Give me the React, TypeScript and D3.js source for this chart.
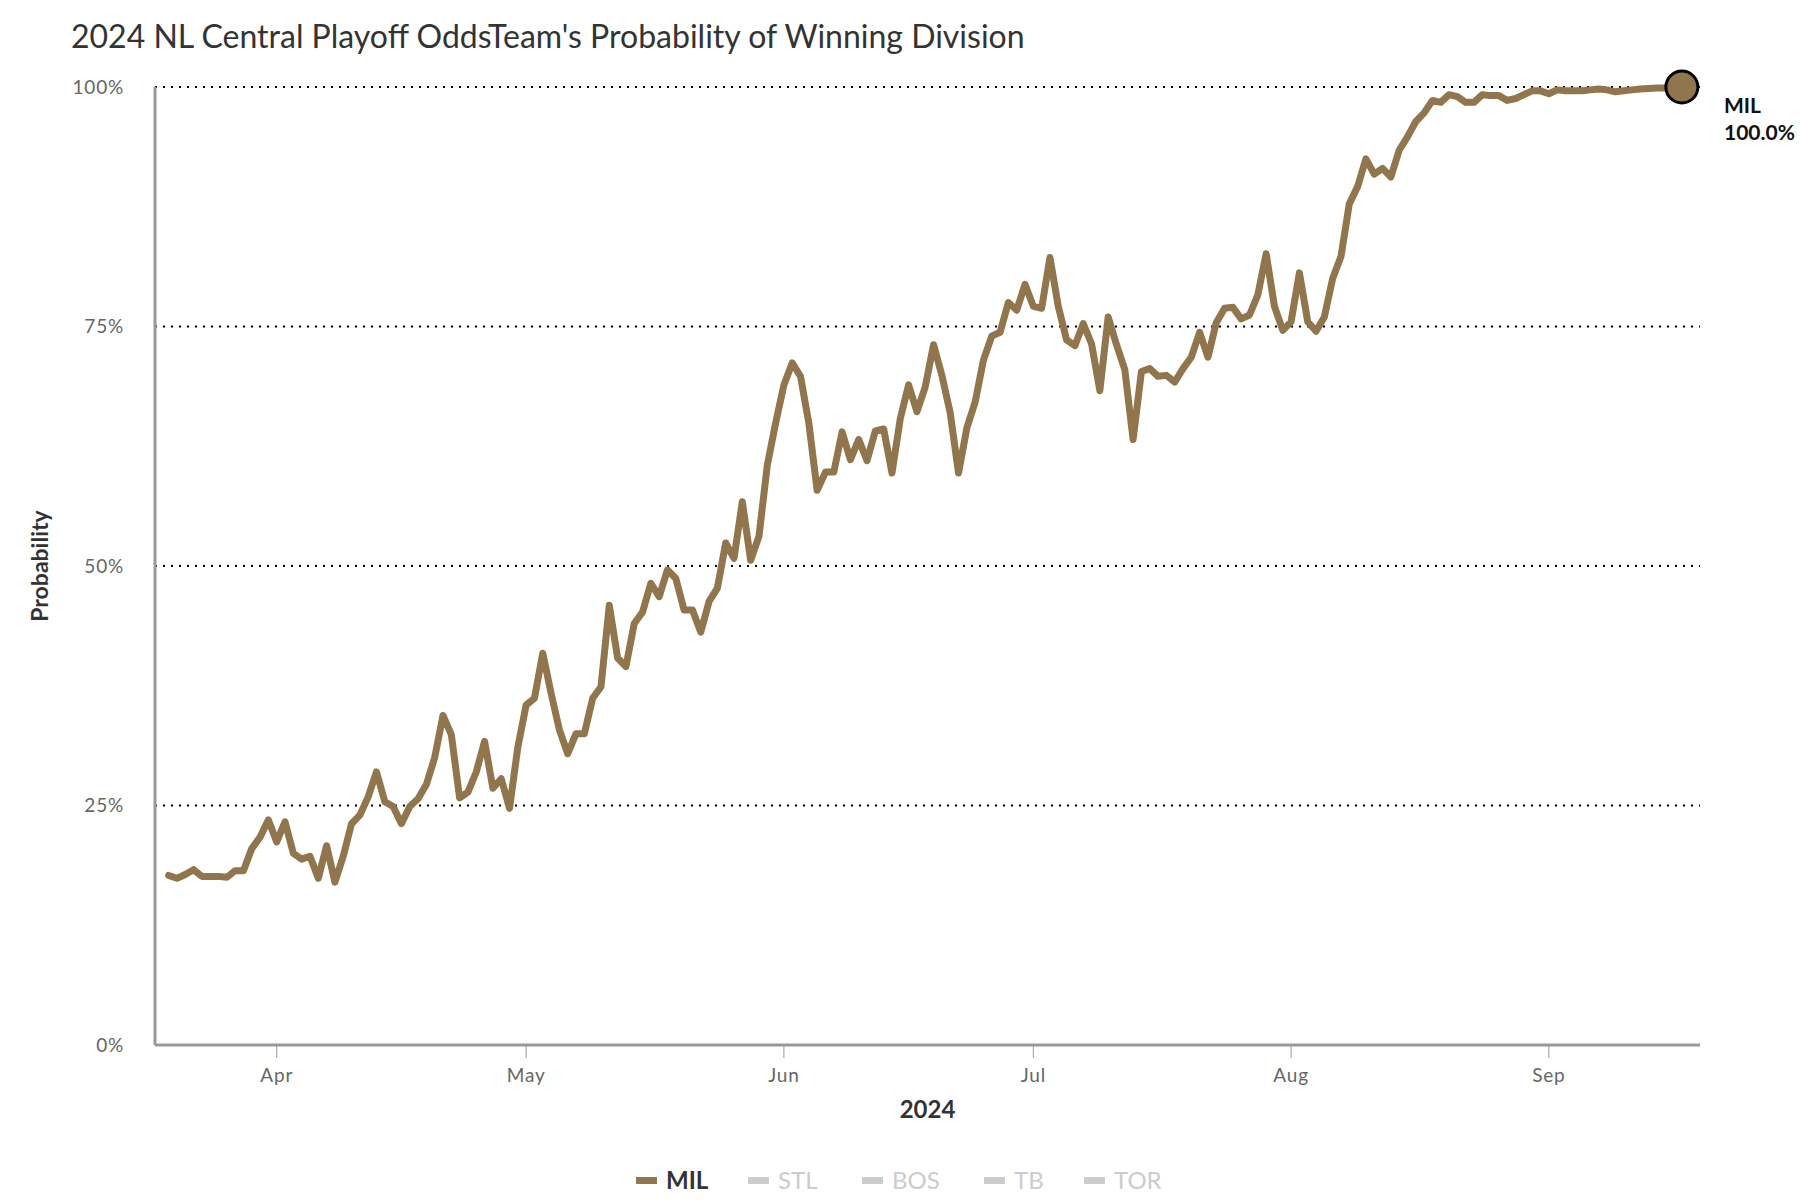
import React from 'react';
import * as d3 from 'd3';

// ---- data ----
const seriesStart = new Date(2024, 2, 19);
const milValues = [
  // Mar 19 - Mar 31
  17.7, 17.4, 17.8, 18.3, 17.6, 17.6, 17.6, 17.5, 18.2, 18.2, 20.5, 21.7, 23.5,
  // Apr
  21.2, 23.3, 20.0, 19.4, 19.7, 17.4, 20.8, 17.0, 19.7, 23.1, 24.0, 25.9, 28.5, 25.4, 24.9,
  23.1, 24.9, 25.7, 27.2, 30.0, 34.4, 32.4, 25.8, 26.4, 28.5, 31.7, 26.8, 27.8, 24.7, 31.1,
  // May
  35.5, 36.2, 40.9, 36.7, 32.9, 30.4, 32.5, 32.5, 36.2, 37.4, 45.9, 40.4, 39.5, 44.0, 45.2,
  48.2, 46.8, 49.6, 48.7, 45.4, 45.4, 43.1, 46.3, 47.7, 52.4, 50.8, 56.7, 50.6, 53.1, 60.5, 64.9,
  // Jun
  68.9, 71.2, 69.8, 64.9, 57.9, 59.8, 59.8, 64.0, 61.1, 63.2, 61.0, 64.1, 64.3, 59.7, 65.4,
  68.9, 66.1, 68.7, 73.1, 69.9, 66.0, 59.7, 64.4, 67.1, 71.5, 74.0, 74.4, 77.5, 76.7, 79.4,
  // Jul
  77.1, 76.9, 82.2, 77.1, 73.6, 73.0, 75.3, 73.2, 68.3, 76.0, 73.1, 70.5, 63.2, 70.3, 70.6,
  69.8, 69.9, 69.2, 70.6, 71.8, 74.4, 71.8, 75.4, 76.9, 77.0, 75.8, 76.2, 78.3, 82.6, 77.1, 74.6,
  // Aug
  75.5, 80.6, 75.5, 74.5, 76.0, 80.0, 82.3, 87.8, 89.6, 92.5, 90.9, 91.5, 90.6, 93.4, 94.8,
  96.4, 97.3, 98.6, 98.4, 99.2, 99.0, 98.4, 98.4, 99.2, 99.1, 99.1, 98.6, 98.8, 99.2, 99.6, 99.6,
  // Sep 1 - Sep 17
  99.3, 99.7, 99.6, 99.6, 99.6, 99.7, 99.8, 99.7, 99.5, 99.6, 99.7, 99.8, 99.85, 99.9, 99.9, 100, 100,
];
const yTickValues = [0, 25, 50, 75, 100];
const gridValues = [25, 50, 75, 100];
const legendTeams = ['MIL', 'STL', 'BOS', 'TB', 'TOR'];
const legendActive = [true, false, false, false, false];
const teamLabel = 'MIL';

const titleText = "2024 NL Central Playoff OddsTeam's Probability of Winning Division";

// ---- layout ----
const W = 1800;
const H = 1200;
const plot = { left: 155, right: 1700, top: 87, bottom: 1045 };
const lineColor = '#91754d';
const font = 'Lato, "Noto Sans", sans-serif';

export default function App() {
  const dates = milValues.map((_, i) => d3.timeDay.offset(seriesStart, i));
  const data = milValues.map((v, i) => ({ date: dates[i], value: v }));

  const x = d3
    .scaleTime()
    .domain([new Date(2024, 2, 17, 8, 40), new Date(2024, 8, 19, 4, 20)])
    .range([plot.left, plot.right]);
  const y = d3.scaleLinear().domain([0, 100]).range([plot.bottom, plot.top]);

  const line = d3
    .line<{ date: Date; value: number }>()
    .x((d) => x(d.date))
    .y((d) => y(d.value));

  const monthTicks = d3.timeMonth.range(new Date(2024, 3, 1), new Date(2024, 9, 1));
  const fmt = d3.timeFormat('%b');
  const last = data[data.length - 1];

  // legend item x positions (layout)
  const legendX = [636, 748, 862, 984, 1084];

  return (
    <svg
      width={W}
      height={H}
      style={{ position: 'absolute', left: 0, top: 0, background: '#fff' }}
      fontFamily={font}
    >
      <text x={71} y={48} fontSize={32} fill="#333">
        {titleText}
      </text>

      {/* grid */}
      {gridValues.map((g) => (
        <line
          key={g}
          x1={plot.left}
          x2={plot.right}
          y1={y(g)}
          y2={y(g)}
          stroke="#000"
          strokeWidth={2}
          strokeDasharray="2,6"
        />
      ))}

      {/* y axis */}
      <line x1={plot.left} x2={plot.left} y1={y(100)} y2={plot.bottom} stroke="#999" strokeWidth={3} />
      {yTickValues.map((t) => (
        <text
          key={t}
          x={124}
          y={y(t)}
          dy="0.35em"
          textAnchor="end"
          fontSize={19}
          fill="#666"
          letterSpacing={0.8}
        >
          {t}%
        </text>
      ))}
      <text
        transform={`translate(48,${(plot.top + plot.bottom) / 2}) rotate(-90)`}
        textAnchor="middle"
        fontSize={23}
        fontWeight="bold"
        fill="#333"
      >
        Probability
      </text>

      {/* x axis */}
      <line x1={plot.left} x2={plot.right} y1={plot.bottom} y2={plot.bottom} stroke="#999" strokeWidth={3} />
      {monthTicks.map((d) => (
        <g key={d.toISOString()}>
          <line x1={x(d)} x2={x(d)} y1={plot.bottom} y2={plot.bottom + 13} stroke="#999" strokeWidth={1} />
          <text x={x(d)} y={1082} textAnchor="middle" fontSize={19} fill="#666" letterSpacing={0.8}>
            {fmt(d)}
          </text>
        </g>
      ))}
      <text x={(plot.left + plot.right) / 2} y={1118} textAnchor="middle" fontSize={24} fontWeight="bold" fill="#333">
        2024
      </text>

      {/* line */}
      <path
        d={line(data) || ''}
        fill="none"
        stroke={lineColor}
        strokeWidth={7}
        strokeLinejoin="round"
        strokeLinecap="round"
      />
      <circle cx={x(last.date)} cy={y(last.value)} r={16} fill={lineColor} stroke="#000" strokeWidth={3} />
      <text x={1724} y={113} fontSize={21} fontWeight="bold" fill="#111">
        {teamLabel}
      </text>
      <text x={1724} y={140} fontSize={21} fontWeight="bold" fill="#111">
        {last.value.toFixed(1)}%
      </text>

      {/* legend */}
      {legendTeams.map((t, i) => (
        <g key={t}>
          <rect
            x={legendX[i]}
            y={1177}
            width={21}
            height={7}
            fill={legendActive[i] ? lineColor : '#ccc'}
          />
          <text
            x={legendX[i] + 30}
            y={1189}
            fontSize={24}
            fontWeight={legendActive[i] ? 'bold' : 'normal'}
            fill={legendActive[i] ? '#333' : '#ccc'}
          >
            {t}
          </text>
        </g>
      ))}
    </svg>
  );
}
